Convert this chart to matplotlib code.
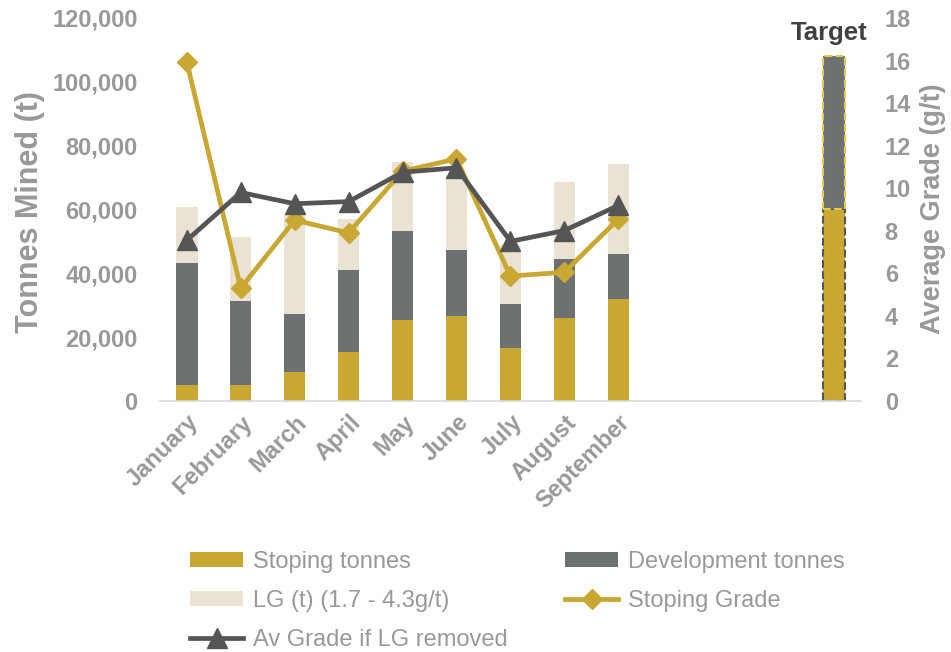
import matplotlib.pyplot as plt
import numpy as np

plt.rcParams['font.family'] = ['Liberation Sans', 'DejaVu Sans']

# Data
months = ['January', 'February', 'March', 'April', 'May', 'June', 'July',
          'August', 'September', '', '', '', '']
stoping_t = [4900, 4900, 9100, 15500, 25500, 26500, 16500, 26100, 32100]
develop_t = [38300, 26400, 18100, 25600, 27800, 20700, 13800, 18500, 13900]
lg_t = [17600, 20100, 31300, 15800, 21500, 23200, 18700, 23900, 28200]
stoping_grade = [15.95, 5.3, 8.5, 7.9, 10.8, 11.38, 5.87, 6.05, 8.55]
av_grade_no_lg = [7.55, 9.8, 9.27, 9.37, 10.75, 10.96, 7.5, 8.01, 9.19]
target_stoping = 60000
target_develop = 48000

GOLD = '#C8A832'
DEV = '#6E7171'
LG = '#EAE2D2'
LINE_DARK = '#555555'
TXT = '#999999'

fig = plt.figure(figsize=(9.51, 6.52), dpi=100, facecolor='white')
ax = fig.add_axes([0.168, 0.385, 0.7375, 0.5874])
ax2 = ax.twinx()

n = len(stoping_t)
x = np.arange(n)
w = 0.4
bottom_dev = np.array(stoping_t)
bottom_lg = bottom_dev + np.array(develop_t)

b1 = ax.bar(x, stoping_t, w, color=GOLD, label='Stoping tonnes')
b2 = ax.bar(x, develop_t, w, bottom=bottom_dev, color=DEV, label='Development tonnes')
b3 = ax.bar(x, lg_t, w, bottom=bottom_lg, color=LG, label='LG (t) (1.7 - 4.3g/t)')

# target column
tx = len(months) - 1
ax.bar(tx, target_stoping, w, color=GOLD, edgecolor=LINE_DARK, linestyle='--', linewidth=1.5)
ax.bar(tx, target_develop, w, bottom=target_stoping, color=DEV, edgecolor='#E6C84A',
       linestyle='--', linewidth=1.5)
ax.text(tx - 0.1, target_stoping + target_develop + 3500, 'Target', ha='center', va='bottom',
        fontsize=18.5, fontweight='bold', color='#404040')

l1, = ax2.plot(x, stoping_grade, color=GOLD, lw=3.4, marker='D', markersize=10,
               label='Stoping Grade', zorder=3)
l2, = ax2.plot(x, av_grade_no_lg, color=LINE_DARK, lw=3.4, marker='^', markersize=14,
               label='Av Grade if LG removed', zorder=4)

ax.set_xlim(-0.5, len(months) - 0.5)
ax.set_ylim(0, 120000)
ax.set_yticks(np.arange(0, 120001, 20000))
ax.set_yticklabels([f'{v:,}' for v in range(0, 120001, 20000)])
ax2.set_ylim(0, 18)
ax2.set_yticks(np.arange(0, 19, 2))

ax.set_xticks(np.arange(len(months)))
ax.set_xticklabels(months, rotation=45, ha='right', rotation_mode='anchor')

for a in (ax, ax2):
    for s in a.spines.values():
        s.set_visible(False)
    a.tick_params(length=0, labelsize=17, labelcolor=TXT)
    for lab in a.get_yticklabels() + a.get_xticklabels():
        lab.set_fontweight('bold')
ax.spines['bottom'].set_visible(True)
ax.spines['bottom'].set_color('#D9D9D9')
ax.spines['bottom'].set_linewidth(1.2)
ax.tick_params(axis='y', pad=16)
ax.tick_params(axis='x', pad=7)
ax2.tick_params(axis='y', pad=17)

fig.text(0.032, 0.675, 'Tonnes Mined (t)', rotation=90, ha='center', va='center',
         fontsize=22, fontweight='bold', color=TXT)
fig.text(0.981, 0.68, 'Average Grade (g/t)', rotation=90, ha='center', va='center',
         fontsize=19.5, fontweight='bold', color=TXT)

handles = [b1, b3, l2, b2, l1]
labels = [h.get_label() for h in handles]
leg = fig.legend(handles, labels, ncol=2, loc='upper left', bbox_to_anchor=(0.2, 0.155),
                 frameon=False, fontsize=17, handlelength=2.25, handleheight=0.6,
                 labelspacing=0.72, columnspacing=2.45, handletextpad=0.4,
                 borderaxespad=0, borderpad=0)
for t in leg.get_texts():
    t.set_color(TXT)

fig.savefig('out.png', dpi=100, facecolor='white')
